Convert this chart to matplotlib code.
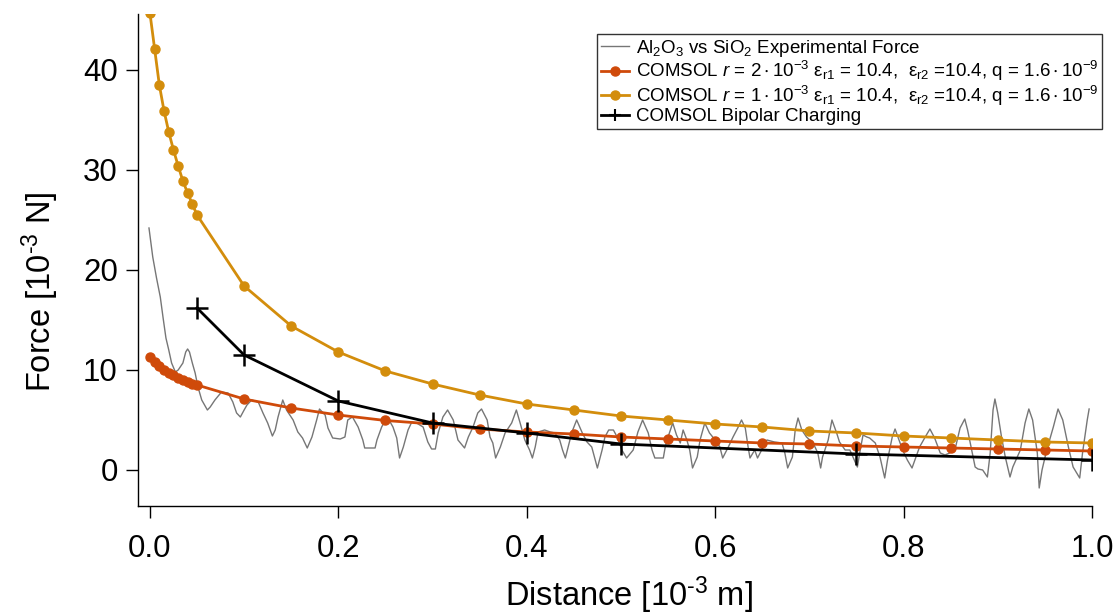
import matplotlib
matplotlib.use('Agg')
import matplotlib.pyplot as plt

# ------------------------------
# Data
# ------------------------------
# COMSOL sweep distances, shared by both sphere radii
comsol_dist = [0.0, 0.005, 0.01, 0.015, 0.02, 0.025, 0.03, 0.035, 0.04, 0.045, 0.05,
               0.1, 0.15, 0.2, 0.25, 0.3, 0.35, 0.4, 0.45, 0.5, 0.55,
               0.6, 0.65, 0.7, 0.75, 0.8, 0.85, 0.9, 0.95, 1.0]
force_r2 = [11.3, 10.8, 10.4, 10.0, 9.7, 9.5, 9.2, 9.0, 8.8, 8.6, 8.5,
            7.1, 6.2, 5.5, 4.95, 4.6, 4.1, 3.8, 3.6, 3.3, 3.1,
            2.9, 2.7, 2.6, 2.4, 2.3, 2.2, 2.1, 2.0, 1.9]
force_r1 = [45.7, 42.1, 38.5, 35.9, 33.8, 32.0, 30.4, 28.9, 27.7, 26.6, 25.5,
            18.4, 14.4, 11.8, 9.9, 8.6, 7.5, 6.6, 6.0, 5.4, 5.0,
            4.6, 4.3, 3.9, 3.7, 3.4, 3.2, 3.0, 2.8, 2.7]

bipolar_dist = [0.05, 0.1, 0.2, 0.3, 0.4, 0.5, 0.75, 1.0]
bipolar_force = [16.2, 11.5, 6.9, 4.7, 3.7, 2.6, 1.6, 1.0]

# experimental trace (peaks / troughs traced by eye)
exp_dist = [-0.001, 0.003, 0.007, 0.011, 0.014, 0.017, 0.020, 0.023, 0.027, 0.030,
            0.035, 0.038, 0.040, 0.042, 0.045, 0.048, 0.051, 0.055, 0.061, 0.064,
            0.069, 0.076, 0.083, 0.088, 0.092, 0.096, 0.100, 0.103, 0.108, 0.115,
            0.120, 0.125, 0.130, 0.133, 0.136, 0.141, 0.145, 0.152, 0.157, 0.162,
            0.167, 0.172, 0.177, 0.180, 0.186, 0.189, 0.194, 0.202, 0.207, 0.210,
            0.215, 0.221, 0.226, 0.228, 0.239, 0.241, 0.246, 0.252, 0.258, 0.262,
            0.265, 0.269, 0.274, 0.278, 0.283, 0.290, 0.295, 0.299, 0.303, 0.306,
            0.311, 0.316, 0.322, 0.327, 0.334, 0.338, 0.343, 0.348, 0.352, 0.358,
            0.361, 0.364, 0.367, 0.372, 0.377, 0.384, 0.389, 0.393, 0.398, 0.403,
            0.406, 0.409, 0.412, 0.419, 0.425, 0.430, 0.435, 0.438, 0.441, 0.444,
            0.448, 0.453, 0.459, 0.464, 0.469, 0.475, 0.480, 0.483, 0.487, 0.492,
            0.496, 0.501, 0.506, 0.513, 0.518, 0.523, 0.529, 0.533, 0.536, 0.545,
            0.547, 0.550, 0.555, 0.559, 0.563, 0.566, 0.570, 0.573, 0.576, 0.581,
            0.584, 0.589, 0.594, 0.600, 0.605, 0.608, 0.614, 0.619, 0.624, 0.628,
            0.632, 0.635, 0.637, 0.642, 0.645, 0.651, 0.655, 0.663, 0.671, 0.674,
            0.677, 0.682, 0.685, 0.688, 0.692, 0.697, 0.704, 0.709, 0.712, 0.714,
            0.720, 0.724, 0.729, 0.732, 0.738, 0.743, 0.751, 0.754, 0.757, 0.761,
            0.764, 0.770, 0.775, 0.780, 0.783, 0.788, 0.791, 0.794, 0.799, 0.804,
            0.809, 0.812, 0.817, 0.823, 0.828, 0.833, 0.839, 0.844, 0.849, 0.855,
            0.860, 0.865, 0.868, 0.873, 0.876, 0.879, 0.884, 0.889, 0.892, 0.895,
            0.897, 0.900, 0.904, 0.908, 0.913, 0.916, 0.924, 0.929, 0.933, 0.937,
            0.942, 0.944, 0.947, 0.952, 0.959, 0.964, 0.969, 0.975, 0.980, 0.987,
            0.990, 0.995, 0.997]
exp_force = [24.2, 21.3, 19.2, 17.3, 15.2, 13.2, 12.0, 10.7, 9.8, 10.0,
             10.7, 11.8, 12.1, 11.8, 10.7, 9.7, 8.3, 7.0, 6.0, 6.3,
             7.0, 7.8, 7.7, 6.8, 5.7, 5.3, 6.0, 6.5, 7.0, 6.8,
             5.7, 4.7, 3.4, 4.0, 5.3, 7.0, 6.0, 5.0, 3.8, 3.2,
             2.2, 3.3, 5.0, 6.1, 5.5, 4.2, 3.2, 3.1, 3.3, 5.0,
             5.3, 4.3, 3.0, 2.2, 2.2, 3.0, 4.3, 5.3, 4.3, 3.2,
             1.2, 2.3, 4.0, 4.8, 4.7, 4.3, 2.8, 2.1, 2.1, 3.7,
             5.3, 6.0, 5.0, 3.0, 2.2, 3.3, 4.3, 5.7, 6.1, 5.0,
             3.3, 2.7, 1.2, 2.3, 3.7, 4.7, 6.0, 4.7, 3.0, 2.0,
             1.2, 2.3, 3.8, 4.0, 3.8, 3.7, 3.0, 2.0, 1.2, 2.3,
             3.8, 5.0, 3.7, 2.8, 2.3, 0.2, 2.0, 3.3, 4.0, 4.0,
             3.3, 2.0, 1.2, 2.0, 3.8, 5.0, 3.7, 2.0, 1.2, 1.2,
             2.3, 3.3, 4.7, 3.5, 2.7, 4.0, 3.0, 2.0, 0.2, 1.3,
             3.0, 4.7, 3.7, 3.0, 2.3, 1.2, 2.3, 3.3, 4.2, 5.0,
             4.2, 2.3, 1.2, 2.0, 1.2, 2.3, 3.0, 2.8, 2.7, 1.7,
             0.2, 1.3, 4.0, 5.2, 4.0, 3.3, 2.7, 1.7, 0.2, 1.3,
             3.0, 5.0, 3.7, 2.8, 2.0, 2.0, 0.3, 2.0, 3.5, 3.3,
             3.2, 2.7, 1.3, -0.8, 1.0, 3.3, 4.1, 3.3, 2.0, 1.0,
             0.2, 1.0, 2.3, 3.3, 4.1, 3.2, 1.7, 1.5, 1.7, 2.2,
             4.2, 5.1, 4.0, 1.7, 0.3, 0.1, 0.0, -0.7, 1.7, 6.0,
             7.1, 5.7, 3.3, 1.3, -0.7, 0.3, 2.0, 4.7, 6.1, 5.0,
             1.7, -1.8, 0.0, 2.0, 4.3, 6.1, 5.0, 2.3, 0.3, -0.8,
             1.7, 5.0, 6.1]

x_ticks = [0.0, 0.2, 0.4, 0.6, 0.8, 1.0]
y_ticks = [0, 10, 20, 30, 40]

# ------------------------------
# Style
# ------------------------------
plt.rcParams['font.family'] = ['Liberation Sans', 'DejaVu Sans']
plt.rcParams['mathtext.fontset'] = 'custom'
plt.rcParams['mathtext.rm'] = 'Liberation Sans'
plt.rcParams['mathtext.it'] = 'Liberation Sans:italic'
plt.rcParams['mathtext.default'] = 'regular'

GOLD = '#D38D0C'
RED = '#CF4A0A'
GRAY = '#767676'

fig = plt.figure(figsize=(11.18, 6.14), dpi=100)
ax = fig.add_axes([0.1234, 0.1759, 0.8533, 0.8013])

ax.plot(exp_dist, exp_force, color=GRAY, lw=1.0,
        label='Al$_2$O$_3$ vs SiO$_2$ Experimental Force')
ax.plot(comsol_dist, force_r2, color=RED, lw=2.0, marker='o', ms=6.5,
        label=r'COMSOL $\mathit{r}$ = $2\cdot10^{-3}$ ε$_{r1}$ = 10.4,  ε$_{r2}$ =10.4, q = $1.6\cdot10^{-9}$')
ax.plot(comsol_dist, force_r1, color=GOLD, lw=2.0, marker='o', ms=6.5,
        label=r'COMSOL $\mathit{r}$ = $1\cdot10^{-3}$ ε$_{r1}$ = 10.4,  ε$_{r2}$ =10.4, q = $1.6\cdot10^{-9}$')
ax.plot(bipolar_dist, bipolar_force, color='black', lw=2.0, marker='+', ms=16, mew=1.8,
        label='COMSOL Bipolar Charging')

ax.set_xlim(-0.0127, 1.0)
ax.set_ylim(-3.6, 45.6)
ax.set_xticks(x_ticks)
ax.set_xticklabels([f"{t:.1f}" for t in x_ticks])
ax.set_yticks(y_ticks)

for s in ['top', 'right']:
    ax.spines[s].set_visible(False)
for s in ['left', 'bottom']:
    ax.spines[s].set_linewidth(1.0)
ax.tick_params(axis='both', direction='out', length=8.5, width=1.0, labelsize=22.5)
ax.tick_params(axis='x', pad=12)
ax.tick_params(axis='y', pad=6)

ax.set_xlabel(r'Distance [10$^{\text{-}3}$ m]', fontsize=23.5, va='center')
ax.set_ylabel(r'Force [10$^{\text{-}3}$ N]', fontsize=23.5, va='center')
ax.xaxis.set_label_coords(0.515, -0.181)
ax.yaxis.set_label_coords(-0.102, 0.435)

leg = ax.legend(loc='upper right', bbox_to_anchor=(1102 / 1118, 1 - 34 / 614),
                bbox_transform=fig.transFigure, fontsize=13.5, frameon=True,
                fancybox=False, edgecolor='black', borderaxespad=0, borderpad=0.2,
                labelspacing=0.02, handlelength=1.5, handletextpad=0.35)
leg.get_frame().set_linewidth(1.0)
leg.legend_handles[3].set_markersize(9)
leg.legend_handles[3].set_markeredgewidth(1.5)

fig.savefig('out.png', dpi=100)
